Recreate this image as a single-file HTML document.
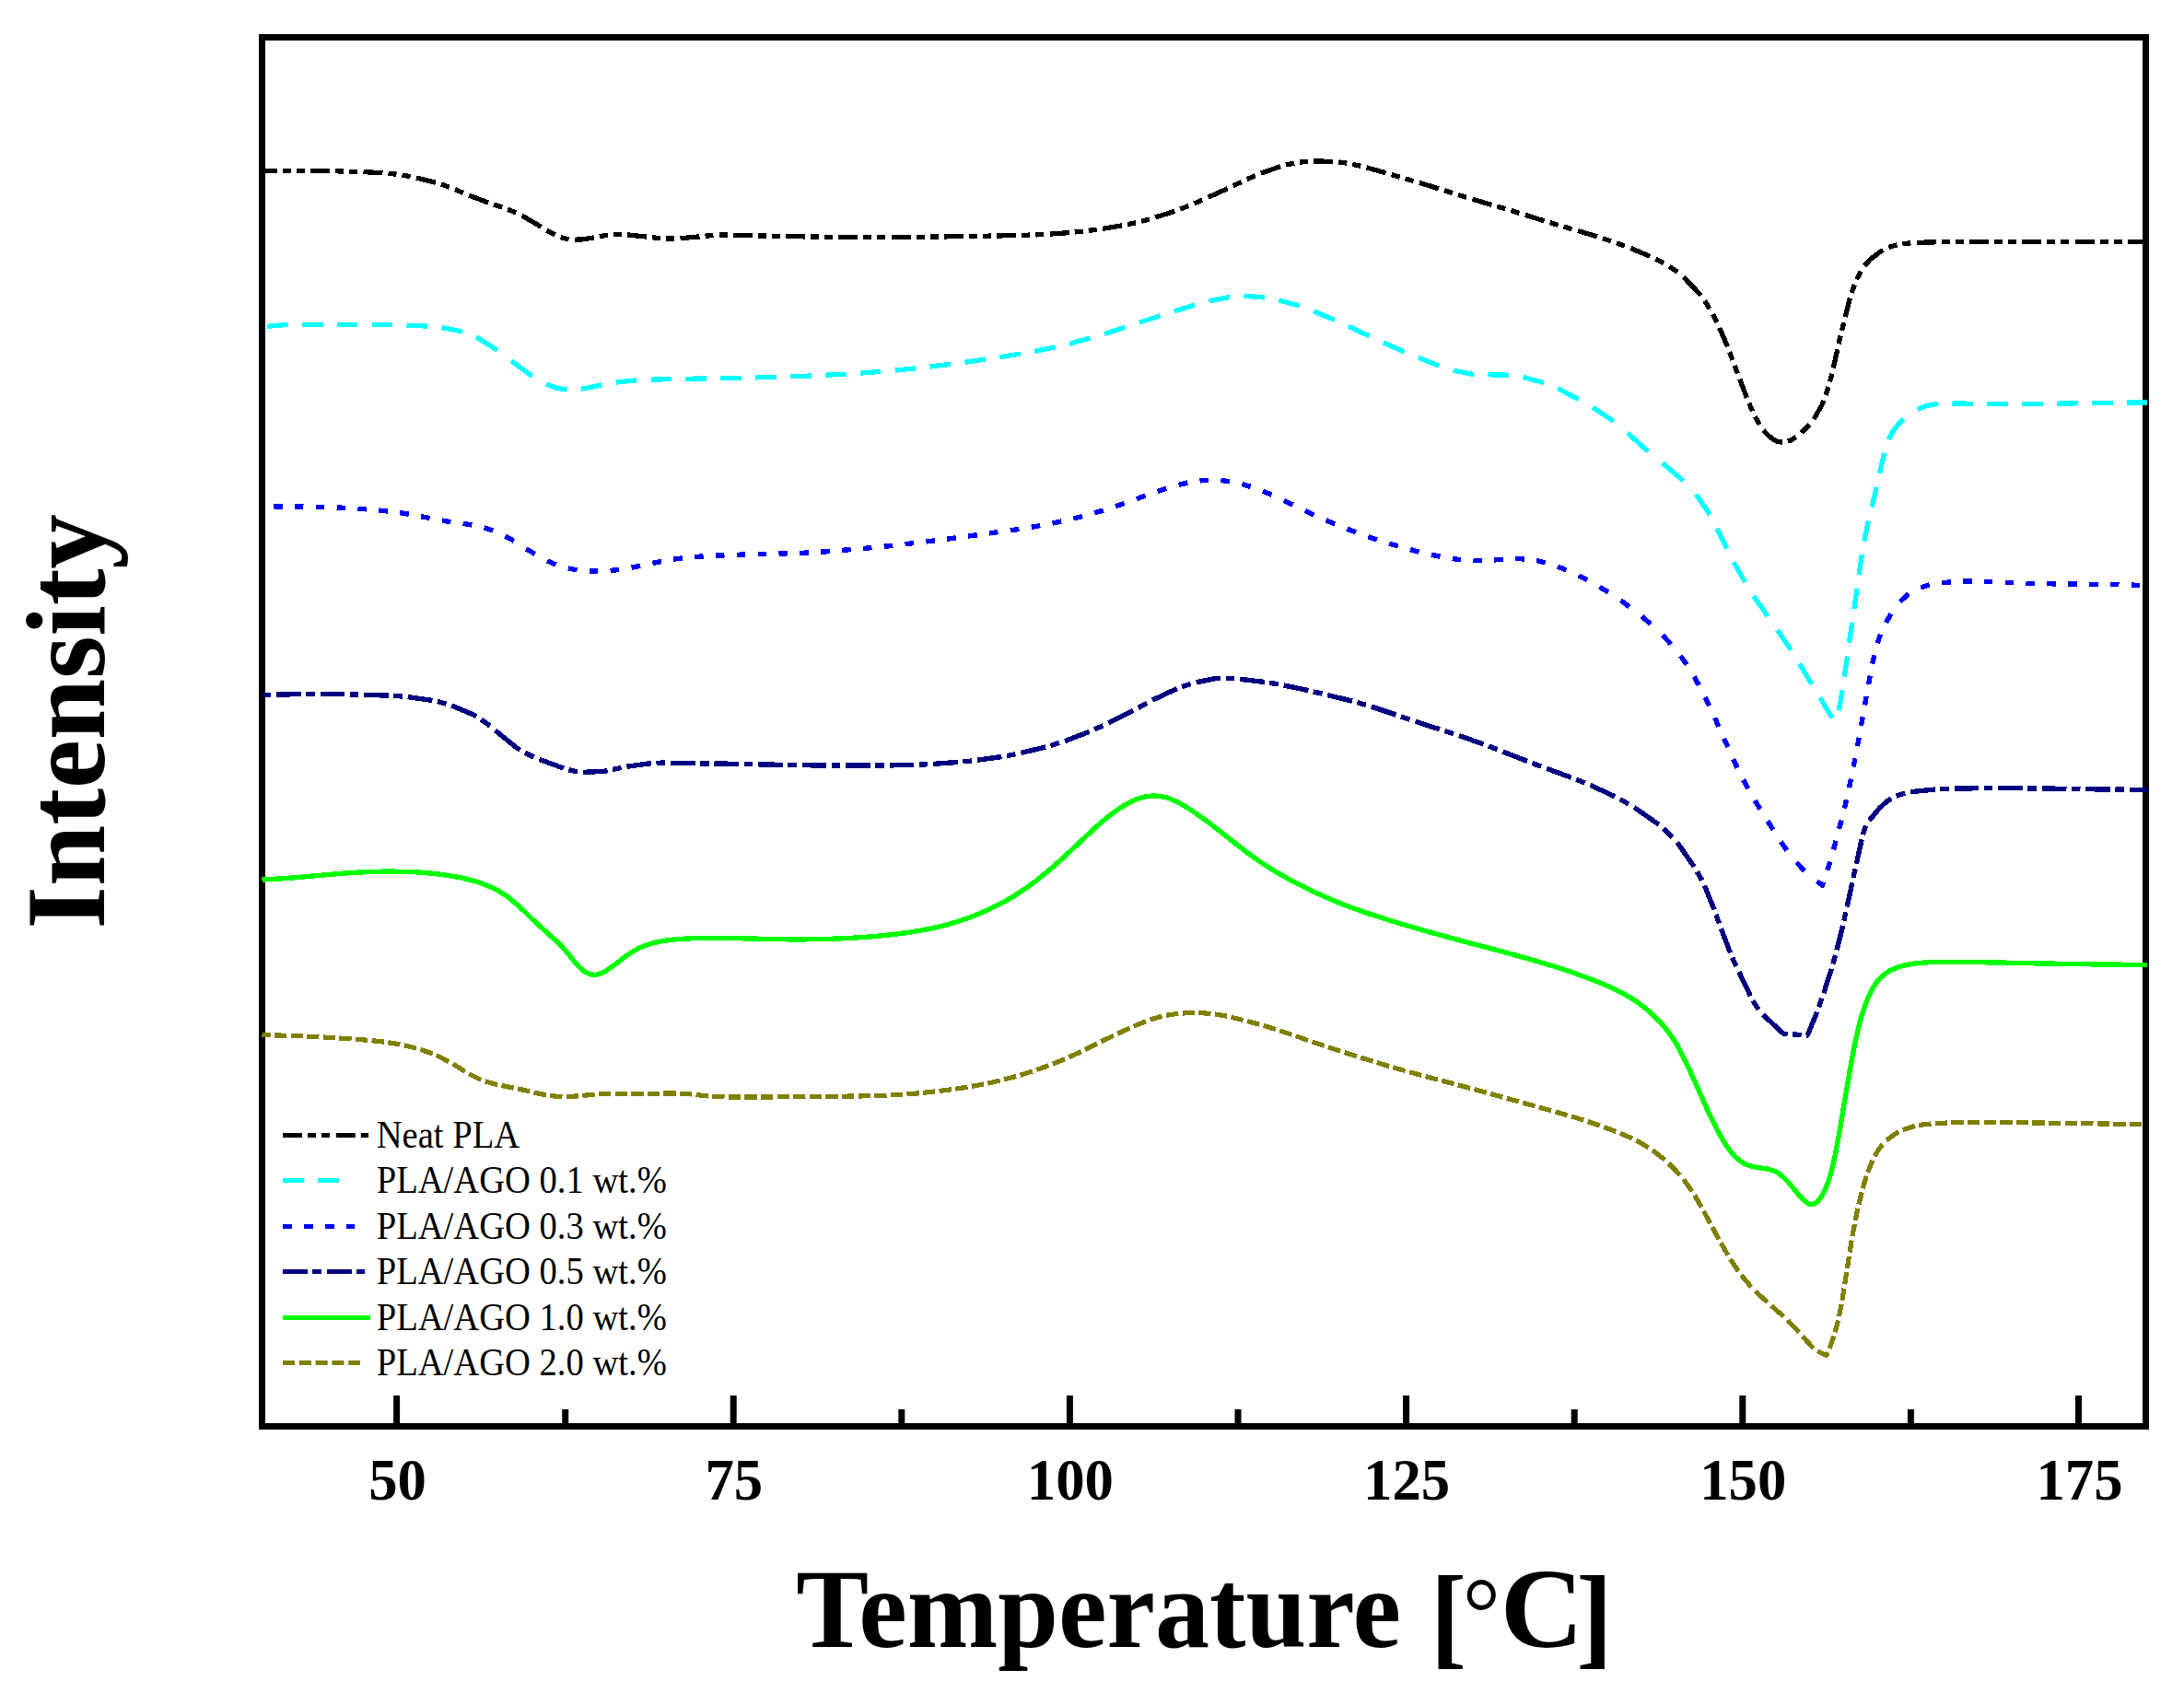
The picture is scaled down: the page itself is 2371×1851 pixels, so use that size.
<!DOCTYPE html>
<html lang="en">
<head>
<meta charset="utf-8">
<title>DSC thermograms</title>
<style>
html,body{margin:0;padding:0;background:#fff;}
body{width:2371px;height:1851px;overflow:hidden;}
svg{display:block;}
.ser{font-family:"Liberation Serif","Times New Roman",serif;}
.b{font-weight:bold;}
</style>
</head>
<body>
<svg width="2371" height="1851" viewBox="0 0 2371 1851">
<rect x="0" y="0" width="2371" height="1851" fill="#ffffff"/>
<rect x="284.5" y="40.5" width="2045.0" height="1508.0" fill="none" stroke="#000" stroke-width="7"/>
<g stroke="#000" stroke-width="7" stroke-linecap="butt">
<line x1="430.6" y1="1515" x2="430.6" y2="1546"/>
<line x1="796.2" y1="1515" x2="796.2" y2="1546"/>
<line x1="1161.4" y1="1515" x2="1161.4" y2="1546"/>
<line x1="1526.6" y1="1515" x2="1526.6" y2="1546"/>
<line x1="1891.8" y1="1515" x2="1891.8" y2="1546"/>
<line x1="2256.5" y1="1515" x2="2256.5" y2="1546"/>
<line x1="613.7" y1="1530" x2="613.7" y2="1546"/>
<line x1="978.8" y1="1530" x2="978.8" y2="1546"/>
<line x1="1344.0" y1="1530" x2="1344.0" y2="1546"/>
<line x1="1709.2" y1="1530" x2="1709.2" y2="1546"/>
<line x1="2074.4" y1="1530" x2="2074.4" y2="1546"/>
</g>
<clipPath id="plotclip"><rect x="284" y="40" width="2047" height="1509"/></clipPath>
<g fill="none" stroke-linejoin="round" stroke-linecap="butt" shape-rendering="crispEdges" clip-path="url(#plotclip)">
<path d="M284.5 185.3L300.9 185.2M306.9 185.2L315.9 185.3M321.9 185.3L330.9 185.3M337.2 185.4L358.2 185.7M364.2 185.8L373.2 186.0M379.2 186.2L388.2 186.4M394.5 186.6L415.5 187.7M421.5 188.2L430.5 189.2M436.5 190.1L445.5 191.7M451.9 193.0L472.9 198.2M478.9 200.0L487.9 203.2M493.9 205.7L502.9 209.4M509.2 212.1L530.2 220.1M536.2 222.1L545.2 225.1M551.2 227.2L560.2 230.9M566.5 233.9L587.5 246.3M593.5 250.1L602.5 254.9M608.5 257.6L615.5 259.5L617.5 259.8M623.8 260.3L634.1 259.7L644.8 257.8M650.8 256.6L659.8 255.3M665.8 254.7L674.8 254.6M681.1 254.9L702.1 257.1M708.1 257.8L717.1 258.6M723.1 259.0L732.1 259.0M738.5 258.7L759.5 256.9M765.5 256.2L774.5 255.5M780.5 255.1L789.5 255.1M795.8 255.2L816.8 255.7M822.8 255.9L831.8 256.1M837.8 256.2L846.8 256.4M853.1 256.5L874.1 256.9M880.1 257.0L889.1 257.1M895.1 257.2L904.1 257.3M910.4 257.4L931.4 257.5M937.4 257.5L946.4 257.5M952.4 257.5L961.4 257.5M967.7 257.5L988.7 257.4M994.7 257.3L1003.7 257.2M1009.7 257.1L1018.7 257.0M1025.1 256.9L1046.1 256.6M1052.1 256.5L1061.1 256.4M1067.1 256.3L1076.1 256.1M1082.4 256.0L1103.4 255.5M1109.4 255.4L1118.4 255.1M1124.4 254.9L1133.4 254.5M1139.7 254.1L1160.7 252.6M1166.7 252.0L1175.7 251.1M1181.7 250.4L1190.7 249.2M1197.0 248.3L1218.0 244.8M1224.0 243.6L1233.0 241.7M1239.0 240.2L1248.0 237.9M1254.3 236.0L1275.3 229.2M1281.3 227.0L1290.3 223.6M1296.3 221.0L1305.3 217.1M1311.7 214.2L1332.7 204.7M1338.7 201.8L1347.7 197.5M1353.7 194.7L1362.7 190.7M1369.0 188.1L1390.0 180.7M1396.0 179.1L1405.0 177.1M1411.0 176.1L1420.0 175.2M1426.3 174.9L1447.3 175.4M1453.3 176.0L1462.3 177.2M1468.3 178.4L1477.3 180.3M1483.6 181.9L1504.6 187.8M1510.6 189.6L1519.6 192.2M1525.6 194.0L1534.6 196.6M1540.9 198.4L1561.9 204.8M1567.9 206.7L1576.9 209.6M1582.9 211.5L1591.9 214.3M1598.3 216.2L1619.3 222.4M1625.3 224.1L1634.3 226.8M1640.3 228.5L1649.3 231.3M1655.6 233.3L1676.6 239.9M1682.6 241.7L1691.6 244.3M1697.6 246.1L1706.6 248.7M1712.9 250.5L1733.9 256.9M1739.9 258.8L1748.9 261.8M1754.9 263.8L1763.9 267.1M1770.2 269.4L1791.2 278.3M1797.2 281.2L1806.2 285.7M1812.2 289.2L1821.2 295.4M1827.5 300.6L1844.6 318.5L1846.4 320.8M1850.7 326.6L1856.1 335.3M1859.4 341.1L1863.8 349.9M1866.7 356.0L1875.4 376.3M1877.6 382.2L1881.0 390.9M1883.2 396.7L1886.4 405.4M1888.7 411.5L1896.4 431.9M1898.8 437.7L1902.7 446.4M1905.3 452.3L1910.3 461.0M1914.4 467.1L1919.8 472.9L1924.5 476.7L1927.8 478.6L1931.3 479.7L1934.8 480.0M1940.8 479.1L1944.7 477.6L1949.8 474.6M1955.8 469.8L1964.3 461.2M1969.1 455.1L1978.1 439.4L1980.1 434.8M1982.1 428.9L1984.9 420.2M1986.5 414.4L1988.8 405.7M1990.3 399.5L1994.8 379.2M1996.1 373.4L1998.1 364.6M1999.6 358.8L2001.7 350.1M2003.2 344.0L2008.4 323.6M2010.2 317.8L2013.3 309.1M2015.6 303.3L2020.2 294.5M2024.3 288.4L2030.7 281.4L2041.4 273.2L2044.4 271.5M2050.4 268.6L2059.4 265.8M2065.4 264.7L2074.4 263.8M2080.7 263.4L2101.7 262.8M2107.7 262.8L2116.7 262.7M2122.7 262.7L2131.7 262.6M2138.0 262.6L2159.0 262.6M2165.0 262.6L2174.0 262.6M2180.0 262.5L2189.0 262.5M2195.4 262.5L2216.4 262.6M2222.4 262.6L2231.4 262.6M2237.4 262.6L2246.4 262.6M2252.7 262.6L2273.7 262.7M2279.7 262.7L2288.7 262.7M2294.7 262.7L2303.7 262.7M2310.0 262.8L2331.0 262.8" stroke="#000000" stroke-width="5.3"/>
<path d="M290.0 354.3L312.6 352.4M327.9 352.3L350.5 352.3M365.7 352.3L388.3 352.4M403.6 352.5L426.2 352.7M441.5 353.1L464.1 354.1M479.4 355.6L501.9 360.0M517.2 365.9L539.8 380.2M555.1 391.9L577.7 408.3M593.0 417.0L605.5 421.5L615.6 423.1M630.8 422.3L653.4 418.0M668.7 415.1L691.3 412.8M706.6 412.2L729.2 411.6M744.4 411.3L767.0 410.9M782.3 410.7L804.9 410.2M820.2 409.9L842.8 409.3M858.1 408.8L880.6 408.0M895.9 407.3L918.5 406.1M933.8 405.1L956.4 403.4M971.7 402.1L994.3 399.8M1009.5 398.1L1032.1 395.3M1047.4 393.3L1070.0 390.1M1085.3 387.8L1107.9 384.1M1123.1 381.4L1145.7 376.8M1161.0 373.2L1183.6 367.1M1198.9 362.5L1221.5 355.3M1236.8 350.2L1259.4 342.8M1274.6 337.9L1297.2 331.1M1312.5 326.9L1335.1 322.4M1350.4 321.3L1373.0 323.0M1388.2 325.9L1410.8 332.1M1426.1 337.8L1448.7 347.4M1464.0 354.3L1486.6 364.9M1501.8 371.9L1524.4 381.9M1539.7 388.3L1562.3 397.2M1577.6 402.2L1597.8 406.2L1600.2 406.4M1615.5 406.8L1638.0 407.2M1653.3 409.3L1675.9 415.5M1691.2 421.7L1713.8 433.6M1729.1 442.4L1751.7 457.3M1766.9 470.1L1789.5 490.4M1804.8 502.6L1827.4 521.9M1841.1 536.7L1854.5 555.9L1856.1 558.7M1863.6 573.5L1874.6 595.5M1882.2 610.3L1894.6 632.3M1903.9 647.1L1918.9 669.0M1929.6 683.9L1944.3 705.8M1953.5 720.7L1966.9 742.6M1975.8 757.5L1989.2 779.4M1996.3 771.4L2000.2 749.4M2002.3 734.6L2005.5 712.6M2007.5 697.8L2010.7 675.8M2012.9 661.0L2016.0 639.1M2018.1 624.2L2021.3 602.3M2023.7 587.4L2028.4 565.5M2032.1 550.6L2037.2 528.7M2040.5 513.9L2045.7 491.9M2050.3 477.1L2053.6 470.4L2060.4 461.3L2066.4 455.2M2081.7 444.4L2090.4 440.9L2104.3 438.2M2119.5 437.9L2142.1 438.3M2157.4 438.7L2180.0 438.8M2195.3 438.7L2217.9 438.4M2233.2 438.2L2255.8 437.8M2271.0 437.5L2293.6 437.3M2308.9 437.1L2331.0 437.0" stroke="#00ffff" stroke-width="5.3"/>
<path d="M297.1 549.8L306.6 549.9M319.9 550.0L329.5 550.1M342.8 550.3L352.4 550.5M365.6 551.0L375.2 551.4M388.4 552.2L398.1 552.9M411.3 554.0L420.9 555.0M434.1 556.7L443.8 558.2M457.0 560.7L466.6 562.5M479.9 565.1L489.4 566.6M502.7 568.4L512.3 570.0M525.5 572.7L535.1 575.9M548.4 582.1L558.0 587.3M571.2 595.8L580.9 601.5M594.1 608.9L603.7 613.0M617.0 617.0L626.5 618.9M639.8 620.0L649.4 620.1M662.6 619.5L672.2 618.4M685.5 616.2L695.1 614.3M708.4 611.4L718.0 609.5M731.2 607.2L740.8 605.9M754.0 604.6L763.6 603.9M776.9 603.2L786.5 602.8M799.8 602.3L809.4 602.0M822.6 601.6L832.2 601.3M845.5 601.0L855.0 600.8M868.3 600.4L877.9 600.0M891.1 599.2L900.8 598.5M914.0 597.4L923.6 596.6M936.9 595.5L946.5 594.6M959.7 593.3L969.3 592.3M982.5 590.7L992.1 589.6M1005.4 588.0L1015.0 586.8M1028.2 585.1L1037.8 583.9M1051.1 582.1L1060.7 580.8M1074.0 578.9L1083.5 577.6M1096.8 575.8L1106.4 574.4M1119.7 572.3L1129.2 570.6M1142.5 568.1L1152.1 566.0M1165.3 563.0L1175.0 560.5M1188.2 556.9L1197.8 554.0M1211.0 549.7L1220.7 546.4M1233.9 541.6L1243.5 538.1M1256.8 533.4L1266.3 530.3M1279.6 526.4L1289.2 524.1M1302.5 521.9L1312.0 521.2M1325.3 521.5L1334.9 522.7M1348.2 525.6L1357.8 528.4M1371.0 533.2L1380.6 537.2M1393.8 543.4L1403.5 548.0M1416.7 554.5L1426.3 559.0M1439.5 564.8L1449.2 568.9M1462.4 574.2L1472.0 577.9M1485.2 582.6L1494.8 585.9M1508.1 590.1L1517.7 592.9M1531.0 596.6L1540.5 599.1M1553.8 602.2L1563.4 604.2M1576.7 606.5L1586.2 607.7M1599.5 608.6L1609.1 608.7M1622.3 607.9L1632.0 607.3M1645.2 606.6L1654.8 606.9M1668.0 608.6L1677.7 610.8M1690.9 615.1L1700.5 618.9M1713.8 624.9L1723.3 629.8M1736.6 637.2L1746.2 643.0M1759.5 651.8L1769.0 658.8M1782.3 669.1L1791.9 677.3M1805.1 689.7L1813.9 699.2M1824.5 712.1L1831.2 721.6M1839.2 734.6L1844.4 744.0M1851.0 757.0L1855.6 766.4M1861.7 779.4L1865.9 788.8M1871.6 801.8L1875.8 811.2M1881.6 824.2L1886.0 833.6M1892.5 846.6L1897.6 856.0M1905.1 869.0L1910.9 878.4M1919.0 891.4L1925.0 900.8M1933.3 913.8L1939.8 923.2M1950.3 936.2L1959.2 945.6M1972.5 956.6L1978.4 961.3L1979.6 957.7M1983.9 944.7L1986.7 935.3M1990.5 922.3L1993.1 912.9M1996.6 899.9L1999.1 890.5M2002.4 877.5L2004.6 868.1M2007.5 855.1L2009.5 845.6M2012.1 832.6L2013.9 823.2M2016.4 810.2L2018.2 800.8M2020.5 787.8L2022.2 778.4M2024.5 765.4L2026.1 756.0M2028.5 743.0L2030.3 733.6M2032.7 720.6L2034.8 711.2M2038.3 698.2L2041.6 688.8M2047.5 675.8L2053.0 666.4M2062.7 653.4L2069.5 646.8L2072.0 644.8M2085.3 637.9L2094.9 634.8M2108.1 632.8L2117.8 631.9M2131.0 631.2L2140.6 631.1M2153.8 631.3L2163.4 631.7M2176.7 632.3L2186.3 632.7M2199.5 633.2L2209.1 633.4M2222.4 633.7L2232.0 633.9M2245.2 634.1L2254.8 634.2M2268.1 634.4L2277.7 634.5M2290.9 634.6L2300.5 634.8M2313.8 635.1L2323.4 635.4" stroke="#0000ff" stroke-width="5.4"/>
<path d="M284.6 754.6L294.2 754.3M300.1 754.2L326.8 753.5M332.1 753.4L341.8 753.4M347.6 753.4L374.3 753.8M379.7 753.9L389.3 754.1M395.1 754.3L421.9 755.1M427.2 755.4L436.9 756.0M442.7 756.6L469.4 760.4M474.8 761.5L484.4 764.1M490.2 765.9L512.8 775.5L517.0 777.8M522.4 781.1L532.0 788.1M537.8 793.1L559.8 811.0L564.5 814.1M569.9 817.2L579.5 822.0M585.4 824.3L612.0 834.1M617.4 835.8L627.0 837.8M632.9 838.4L654.8 837.4L659.6 836.6M665.0 835.5L674.6 833.4M680.4 832.2L707.1 828.6M712.5 828.3L722.1 828.1M728.0 828.2L754.7 828.8M760.1 828.9L769.7 829.0M775.5 829.1L802.2 829.3M807.6 829.4L817.2 829.7M823.1 829.8L849.8 830.4M855.2 830.5L864.8 830.7M870.6 830.7L897.3 831.0M902.8 831.0L912.3 831.1M918.2 831.1L944.9 831.1M950.3 831.0L959.9 831.0M965.8 830.9L992.4 830.3M997.8 830.1L1007.4 829.7M1013.3 829.4L1040.0 827.4M1045.4 826.9L1055.0 826.0M1060.8 825.3L1087.5 821.5M1093.0 820.6L1102.5 818.7M1108.4 817.4L1135.1 811.0M1140.5 809.5L1150.1 806.5M1156.0 804.6L1182.6 794.3M1188.0 791.9L1197.6 787.7M1203.5 785.0L1230.2 771.4M1235.6 768.5L1245.2 763.3M1251.0 760.1L1277.8 747.6M1283.1 745.5L1292.8 742.4M1298.6 740.8L1318.0 736.9L1325.3 736.4M1330.7 736.4L1340.3 736.8M1346.1 737.3L1372.8 740.5M1378.2 741.3L1387.8 742.9M1393.7 744.0L1420.4 749.6M1425.8 750.9L1435.4 753.1M1441.2 754.5L1467.9 761.1M1473.3 762.6L1482.9 765.3M1488.8 767.1L1515.5 776.0M1520.9 777.9L1530.5 781.2M1536.3 783.2L1563.0 791.8M1568.4 793.5L1578.0 796.6M1583.9 798.5L1610.6 808.0M1616.0 810.0L1625.6 813.7M1631.4 816.0L1658.1 826.4M1663.5 828.5L1673.1 832.1M1679.0 834.3L1705.7 844.1M1711.1 846.2L1720.7 850.0M1726.5 852.4L1753.2 864.8M1758.6 867.6L1768.2 873.0M1774.1 876.5L1800.8 895.2M1806.2 899.7L1815.6 908.8M1820.8 914.6L1839.1 940.9M1842.3 946.2L1847.6 955.6M1850.4 961.4L1861.1 987.6M1863.0 993.0L1866.4 1002.4M1868.5 1008.2L1878.4 1034.4M1880.7 1039.8L1885.0 1049.2M1887.8 1055.0L1900.3 1081.2M1902.9 1086.5L1909.2 1096.0M1914.1 1101.7L1936.2 1122.3L1940.6 1122.6M1946.0 1122.9L1955.6 1123.5M1961.5 1123.8L1962.4 1123.9L1972.6 1098.6M1974.6 1093.2L1977.9 1083.8M1979.9 1078.0L1988.3 1051.8M1989.9 1046.4L1992.6 1037.0M1994.1 1031.2L2000.6 1005.0M2001.8 999.7L2003.9 990.2M2005.2 984.5L2010.9 958.2M2012.0 952.9L2014.1 943.4M2015.4 937.7L2021.1 911.4M2022.3 906.1L2024.2 900.0L2025.8 896.6M2029.2 890.9L2040.9 876.8L2048.0 870.4L2053.3 866.9M2058.7 864.2L2068.3 860.9M2074.2 859.7L2100.9 857.0M2106.2 856.7L2115.9 856.3M2121.7 856.1L2148.4 855.7M2153.8 855.7L2163.4 855.7M2169.2 855.7L2196.0 855.8M2201.4 855.9L2211.0 856.0M2216.8 856.0L2243.5 856.4M2248.9 856.4L2258.5 856.6M2264.4 856.7L2291.1 857.0M2296.5 857.1L2306.1 857.2M2311.9 857.2L2331.0 857.4" stroke="#000080" stroke-width="5.4"/>
<path d="M284.5 955.0C289.5 954.7 304.4 954.0 314.6 953.2C324.8 952.5 335.4 951.4 345.6 950.5C355.9 949.6 366.4 948.5 376.1 947.9C385.8 947.2 394.9 946.7 403.7 946.4C412.5 946.2 420.6 946.1 428.9 946.2C437.2 946.2 445.3 946.4 453.5 946.9C461.7 947.5 470.4 948.3 478.2 949.3C486.0 950.3 493.7 951.5 500.5 952.9C507.2 954.3 513.0 955.8 518.6 957.6C524.3 959.4 529.4 961.3 534.5 963.8C539.6 966.2 544.3 968.9 549.2 972.3C554.1 975.7 558.8 979.9 563.8 984.3C568.8 988.7 574.1 994.2 579.1 998.9C584.0 1003.5 589.0 1008.1 593.4 1012.1C597.8 1016.2 601.8 1019.4 605.5 1023.0C609.1 1026.6 612.0 1029.9 615.2 1033.5C618.3 1037.1 621.1 1041.2 624.2 1044.7C627.4 1048.2 630.8 1052.2 634.2 1054.5C637.6 1056.8 641.2 1058.4 644.8 1058.5C648.4 1058.5 651.9 1057.1 655.9 1055.1C659.9 1053.1 664.3 1049.4 668.8 1046.2C673.3 1043.0 678.0 1038.8 682.9 1035.7C687.8 1032.5 692.5 1029.6 698.2 1027.3C703.8 1025.0 709.9 1023.4 717.0 1022.0C724.0 1020.7 732.0 1019.9 740.4 1019.3C748.8 1018.7 758.0 1018.5 767.5 1018.4C777.0 1018.3 787.0 1018.4 797.7 1018.6C808.3 1018.8 819.7 1019.2 831.2 1019.4C842.7 1019.6 854.7 1019.9 866.4 1019.9C878.1 1019.8 889.9 1019.7 901.6 1019.3C913.3 1018.9 925.1 1018.4 936.8 1017.5C948.5 1016.7 960.8 1015.6 972.0 1014.2C983.2 1012.9 994.5 1011.2 1004.2 1009.3C1014.0 1007.5 1022.3 1005.6 1030.6 1003.2C1038.9 1000.9 1046.3 998.4 1054.1 995.5C1061.9 992.5 1069.8 989.2 1077.6 985.4C1085.4 981.6 1093.2 977.5 1101.0 972.7C1108.8 967.8 1116.7 962.4 1124.5 956.4C1132.3 950.4 1140.2 943.7 1148.0 936.8C1155.8 929.9 1163.8 922.1 1171.4 915.1C1179.1 908.1 1186.8 900.5 1193.7 894.5C1200.7 888.5 1207.2 883.2 1213.1 879.1C1219.0 875.0 1224.1 872.1 1228.9 869.8C1233.7 867.5 1237.7 866.2 1241.8 865.2C1245.9 864.3 1249.6 863.9 1253.6 864.0C1257.6 864.1 1261.6 864.6 1265.9 865.8C1270.2 867.0 1274.8 869.0 1279.4 871.4C1284.0 873.7 1288.5 876.5 1293.6 879.9C1298.7 883.3 1303.9 886.9 1310.2 891.6C1316.6 896.3 1324.0 902.3 1331.5 908.0C1338.9 913.8 1347.1 920.5 1354.9 926.2C1362.7 931.9 1370.6 937.4 1378.4 942.3C1386.2 947.3 1394.1 951.7 1401.9 955.9C1409.7 960.1 1417.5 963.9 1425.3 967.6C1433.1 971.3 1441.0 974.9 1448.8 978.1C1456.6 981.4 1464.5 984.4 1472.3 987.2C1480.1 990.0 1487.9 992.5 1495.7 995.0C1503.5 997.6 1511.4 1000.0 1519.2 1002.4C1527.0 1004.7 1534.8 1007.0 1542.6 1009.2C1550.4 1011.5 1558.3 1013.6 1566.1 1015.8C1573.9 1017.9 1581.8 1020.1 1589.6 1022.2C1597.4 1024.3 1605.2 1026.3 1613.0 1028.3C1620.8 1030.4 1628.7 1032.4 1636.5 1034.5C1644.3 1036.7 1652.2 1038.9 1660.0 1041.1C1667.8 1043.4 1675.6 1045.6 1683.4 1048.0C1691.2 1050.4 1699.1 1052.9 1706.9 1055.7C1714.7 1058.4 1722.8 1061.3 1730.4 1064.3C1738.0 1067.3 1745.7 1070.4 1752.7 1073.8C1759.6 1077.1 1766.0 1080.6 1772.0 1084.3C1778.0 1088.1 1783.4 1092.2 1788.4 1096.3C1793.4 1100.5 1798.0 1105.1 1801.9 1109.2C1805.9 1113.4 1808.9 1117.1 1812.0 1121.4C1815.2 1125.6 1817.7 1129.4 1820.8 1134.8C1823.8 1140.2 1827.1 1146.5 1830.6 1153.8C1834.1 1161.0 1837.9 1169.7 1841.6 1178.0C1845.3 1186.3 1849.3 1195.5 1853.0 1203.5C1856.6 1211.4 1860.3 1219.2 1863.8 1225.8C1867.3 1232.4 1870.5 1238.2 1873.9 1243.3C1877.3 1248.3 1880.7 1252.7 1884.2 1256.2C1887.7 1259.6 1891.3 1262.1 1895.1 1264.0C1898.9 1265.8 1903.1 1266.5 1907.1 1267.4C1911.1 1268.2 1915.4 1268.2 1919.1 1269.1C1922.8 1270.0 1926.1 1270.9 1929.4 1272.8C1932.7 1274.8 1935.8 1277.7 1939.0 1280.9C1942.2 1284.1 1945.6 1288.5 1948.7 1292.2C1951.8 1295.8 1954.9 1300.1 1957.8 1302.6C1960.7 1305.1 1963.4 1307.2 1966.0 1307.4C1968.7 1307.6 1971.2 1306.2 1973.7 1303.7C1976.2 1301.1 1978.7 1297.1 1981.0 1292.2C1983.3 1287.3 1985.4 1281.3 1987.4 1274.3C1989.4 1267.4 1991.3 1258.8 1993.0 1250.3C1994.7 1241.8 1996.3 1232.3 1997.9 1223.6C1999.4 1214.8 2000.8 1206.1 2002.2 1197.7C2003.6 1189.2 2005.0 1181.0 2006.4 1172.9C2007.8 1164.9 2009.1 1157.2 2010.6 1149.4C2012.0 1141.7 2013.5 1133.9 2015.2 1126.3C2016.9 1118.6 2018.8 1110.6 2020.9 1103.4C2023.1 1096.2 2025.4 1089.1 2028.0 1083.2C2030.5 1077.2 2033.2 1072.1 2036.2 1067.9C2039.2 1063.6 2042.2 1060.5 2045.9 1057.6C2049.5 1054.7 2053.3 1052.6 2058.2 1050.8C2063.1 1048.9 2068.5 1047.6 2075.2 1046.5C2081.8 1045.5 2089.0 1044.9 2098.1 1044.6C2107.1 1044.2 2117.4 1044.3 2129.7 1044.3C2142.0 1044.4 2157.1 1044.8 2172.0 1045.1C2186.8 1045.4 2202.7 1045.7 2218.9 1046.0C2235.1 1046.3 2253.7 1046.6 2269.3 1046.8C2284.9 1047.1 2302.3 1047.2 2312.6 1047.3C2322.9 1047.4 2327.9 1047.4 2331.0 1047.4" stroke="#00ff00" stroke-width="5.4"/>
<path d="M284.5 1123.5L293.6 1123.8M297.9 1123.9L311.2 1124.3M315.6 1124.4L328.9 1124.9M333.1 1125.1L346.4 1125.8M350.8 1126.0L364.1 1126.8M368.4 1127.0L381.6 1127.9M385.9 1128.2L399.2 1129.3M403.6 1129.7L416.9 1131.1M421.2 1131.7L434.4 1133.9M438.8 1134.8L452.1 1138.1M456.4 1139.3L469.7 1144.0M473.9 1145.7L487.2 1152.5M491.6 1155.0L504.9 1163.2M509.2 1165.9L522.5 1172.4M526.8 1174.0L540.1 1177.7M544.4 1178.5L557.6 1181.1M562.0 1181.9L575.2 1184.9M579.6 1186.0L592.9 1188.9M597.1 1189.6L610.5 1190.7M614.8 1190.7L628.1 1189.8M632.4 1189.4L645.6 1188.2M650.0 1187.8L663.2 1187.3M667.6 1187.2L680.9 1187.3M685.1 1187.4L698.5 1187.4M702.8 1187.4L716.1 1187.1M720.4 1187.0L733.7 1187.0M738.0 1187.1L751.2 1188.0M755.6 1188.5L768.9 1190.0M773.2 1190.3L786.5 1190.8M790.8 1190.9L804.1 1191.0M808.4 1191.1L821.7 1191.0M826.0 1191.0L839.2 1190.9M843.6 1190.8L856.9 1190.7M861.2 1190.6L874.5 1190.5M878.8 1190.5L892.1 1190.4M896.4 1190.3L909.7 1190.2M914.0 1190.2L927.2 1190.0M931.6 1190.0L944.9 1189.7M949.2 1189.6L962.5 1189.1M966.8 1188.9L980.1 1188.2M984.4 1187.9L997.7 1186.8M1002.0 1186.3L1015.2 1184.9M1019.6 1184.4L1032.9 1182.8M1037.2 1182.2L1050.5 1180.2M1054.8 1179.4L1068.0 1177.0M1072.4 1176.1L1085.7 1173.1M1090.0 1172.0L1103.2 1168.4M1107.5 1167.2L1120.9 1163.0M1125.2 1161.5L1138.5 1156.7M1142.8 1155.1L1156.1 1149.7M1160.4 1147.8L1173.7 1141.7M1178.0 1139.6L1191.2 1133.0M1195.6 1130.8L1208.9 1124.3M1213.2 1122.3L1226.5 1116.1M1230.8 1114.2L1244.1 1108.7M1248.4 1107.1L1261.7 1103.2M1266.0 1102.3L1279.2 1100.3M1283.6 1100.0L1296.9 1099.5M1301.2 1099.5L1314.5 1100.4M1318.8 1100.9L1332.1 1103.2M1336.4 1104.2L1349.7 1107.5M1354.0 1108.6L1367.2 1112.2M1371.6 1113.4L1384.9 1117.5M1389.2 1118.9L1402.5 1123.3M1406.8 1124.7L1420.1 1129.5M1424.4 1131.0L1437.7 1135.5M1442.0 1136.9L1455.2 1141.2M1459.6 1142.6L1472.9 1146.7M1477.2 1148.1L1490.5 1152.2M1494.8 1153.5L1508.1 1157.6M1512.4 1158.8L1525.7 1162.6M1530.0 1163.8L1543.2 1167.4M1547.6 1168.6L1560.9 1172.1M1565.2 1173.3L1578.5 1176.7M1582.8 1177.9L1596.1 1181.4M1600.4 1182.6L1613.7 1186.2M1618.0 1187.4L1631.2 1191.1M1635.6 1192.3L1648.9 1196.0M1653.2 1197.2L1666.5 1200.9M1670.8 1202.1L1684.1 1205.8M1688.4 1207.0L1701.7 1210.8M1706.0 1212.0L1719.2 1216.1M1723.6 1217.5L1736.9 1222.0M1741.2 1223.5L1754.5 1228.5M1758.8 1230.2L1772.1 1236.0M1776.4 1238.1L1789.7 1245.8M1794.0 1248.7L1807.3 1259.1M1811.6 1262.9L1824.1 1275.9M1827.6 1280.2L1836.9 1293.3M1839.6 1297.5L1847.3 1310.6M1849.6 1314.9L1856.7 1328.0M1858.9 1332.2L1866.0 1345.4M1868.3 1349.6L1875.9 1362.7M1878.5 1367.0L1887.3 1380.1M1890.3 1384.3L1901.4 1397.4M1905.5 1401.7L1918.8 1413.9M1923.1 1417.6L1936.4 1429.3M1940.7 1433.3L1952.9 1446.3M1956.6 1450.6L1968.7 1463.6M1973.0 1466.8L1982.8 1471.5L1984.3 1468.0M1986.1 1463.8L1990.8 1450.6M1992.1 1446.4L1995.6 1433.3M1996.5 1429.0L1999.1 1415.9M1999.8 1411.7L2002.0 1398.6M2002.7 1394.3L2004.7 1381.2M2005.4 1377.0L2007.4 1363.8M2008.1 1359.6L2010.2 1346.5M2011.0 1342.2L2013.3 1329.1M2014.2 1324.9L2016.9 1311.8M2017.9 1307.5L2021.1 1294.4M2022.2 1290.2L2026.2 1277.0M2027.6 1272.8L2032.9 1259.7M2035.0 1255.4L2040.3 1246.8L2043.9 1242.3M2048.0 1238.1L2055.6 1232.2L2061.3 1228.8M2065.6 1226.7L2078.9 1222.4M2083.2 1221.5L2096.5 1219.9M2100.8 1219.6L2114.1 1219.0M2118.4 1218.9L2131.7 1218.8M2136.0 1218.7L2149.3 1218.6M2153.6 1218.6L2166.9 1218.6M2171.2 1218.7L2184.5 1218.7M2188.8 1218.7L2202.1 1218.9M2206.4 1218.9L2219.7 1219.0M2224.0 1219.1L2237.3 1219.3M2241.6 1219.3L2254.9 1219.5M2259.2 1219.6L2272.5 1219.8M2276.8 1219.9L2290.1 1220.1M2294.4 1220.1L2307.7 1220.4M2312.0 1220.4L2325.3 1220.6" stroke="#808000" stroke-width="5.2"/>
</g>
<g class="ser b" font-size="62.8" text-anchor="middle" fill="#000">
<text x="431.6" y="1627.8">50</text>
<text x="796.8" y="1627.8">75</text>
<text x="1161.9" y="1627.8">100</text>
<text x="1527.1" y="1627.8">125</text>
<text x="1892.3" y="1627.8">150</text>
<text x="2257.5" y="1627.8">175</text>
</g>
<text class="ser b" font-size="100" fill="#000" transform="translate(864.3 1788.3) scale(1.1824 1.232)"><tspan x="0" y="0">Temperature </tspan><tspan x="582.23" y="5.8">[</tspan><tspan x="611.85" y="-1.2" font-weight="normal" font-size="87">°</tspan><tspan x="646.44" y="0" textLength="76.33" lengthAdjust="spacingAndGlyphs">C</tspan><tspan x="716.39" y="5.8">]</tspan></text>
<text class="ser b" font-size="100" transform="translate(113.4 1008.4) rotate(-90) scale(1.192 1.235)" x="0" y="0" fill="#000">Intensity</text>
<g fill="none" stroke-width="5">
<line x1="307" y1="1232.5" x2="400.1" y2="1232.5" stroke="#000000" stroke-dasharray="21 6 9 6 9 6.8"/>
<line x1="307" y1="1281.5" x2="368.1" y2="1281.5" stroke="#00ffff" stroke-dasharray="23.2 14.8"/>
<line x1="307" y1="1331.5" x2="385.2" y2="1331.5" stroke="#0000ff" stroke-dasharray="10 13"/>
<line x1="307" y1="1380.5" x2="396.2" y2="1380.5" stroke="#000080" stroke-dasharray="27 5 10 6"/>
<line x1="307" y1="1430.5" x2="402" y2="1430.5" stroke="#00ff00"/>
<line x1="307" y1="1479.5" x2="391" y2="1479.5" stroke="#808000" stroke-dasharray="13.1 4.7"/>
</g>
<g class="ser" font-size="100" fill="#000">
<text transform="translate(408.7 1246.1) scale(0.386 0.418)" x="0" y="0">Neat PLA</text>
<text transform="translate(408.7 1295.1) scale(0.386 0.418)" x="0" y="0">PLA/AGO 0.1 wt.%</text>
<text transform="translate(408.7 1345.1) scale(0.386 0.418)" x="0" y="0">PLA/AGO 0.3 wt.%</text>
<text transform="translate(408.7 1394.1) scale(0.386 0.418)" x="0" y="0">PLA/AGO 0.5 wt.%</text>
<text transform="translate(408.7 1444.1) scale(0.386 0.418)" x="0" y="0">PLA/AGO 1.0 wt.%</text>
<text transform="translate(408.7 1493.1) scale(0.386 0.418)" x="0" y="0">PLA/AGO 2.0 wt.%</text>
</g>
</svg>
</body>
</html>
